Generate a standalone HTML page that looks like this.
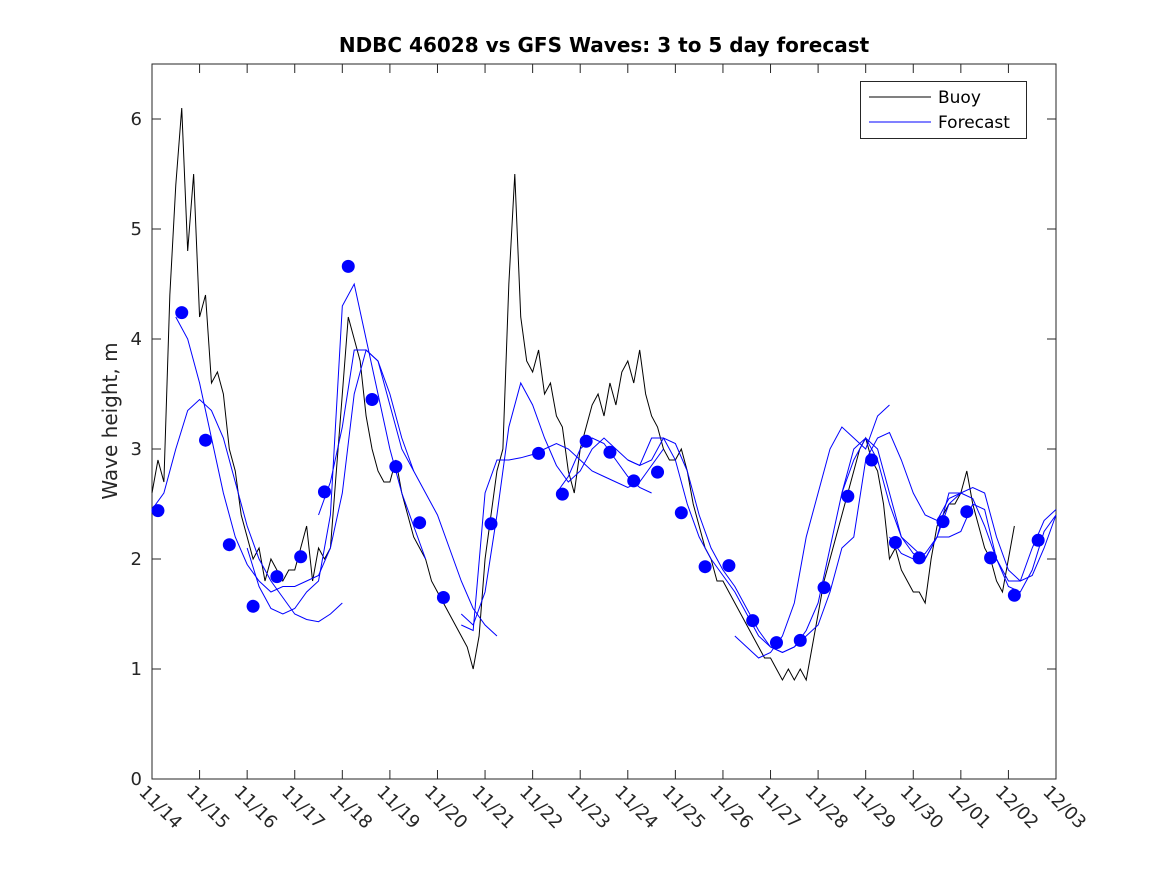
<!DOCTYPE html>
<html><head><meta charset="utf-8"><style>
body{margin:0;background:#fff;}
svg{display:block;font-family:"DejaVu Sans","Liberation Sans",sans-serif;}
</style></head><body>
<svg id="chart" width="1167" height="875">
<rect x="0" y="0" width="1167" height="875" fill="#fff"/>
<text x="604" y="52" text-anchor="middle" font-size="20" font-weight="bold">NDBC 46028 vs GFS Waves: 3 to 5 day forecast</text>
<g id="plot"></g>
</svg>
<script>
const dateLabels=["11/14","11/15","11/16","11/17","11/18","11/19","11/20","11/21","11/22","11/23","11/24","11/25","11/26","11/27","11/28","11/29","11/30","12/01","12/02","12/03"];
const yTicks=[0,1,2,3,4,5,6];
const buoyStep=0.125;
const buoy=[2.6,2.9,2.7,4.4,5.4,6.1,4.8,5.5,
4.2,4.4,3.6,3.7,3.5,3.0,2.8,2.4,
2.2,2.0,2.1,1.8,2.0,1.9,1.8,1.9,
1.9,2.1,2.3,1.8,2.1,2.0,2.1,2.8,
3.5,4.2,4.0,3.8,3.3,3.0,2.8,2.7,
2.7,2.9,2.6,2.4,2.2,2.1,2.0,1.8,
1.7,1.6,1.5,1.4,1.3,1.2,1.0,1.3,
2.0,2.4,2.8,3.0,4.5,5.5,4.2,3.8,
3.7,3.9,3.5,3.6,3.3,3.2,2.8,2.6,
3.0,3.2,3.4,3.5,3.3,3.6,3.4,3.7,
3.8,3.6,3.9,3.5,3.3,3.2,3.0,2.9,
2.9,3.0,2.8,2.5,2.3,2.1,2.0,1.8,
1.8,1.7,1.6,1.5,1.4,1.3,1.2,1.1,
1.1,1.0,0.9,1.0,0.9,1.0,0.9,1.2,
1.5,1.8,2.0,2.2,2.4,2.6,2.8,3.0,
3.1,2.9,2.8,2.5,2.0,2.1,1.9,1.8,
1.7,1.7,1.6,2.0,2.3,2.4,2.5,2.5,
2.6,2.8,2.5,2.3,2.1,2.0,1.8,1.7,
2.0,2.3];
const dotStart=0.125, dotStep=0.5;
const dots=[2.44,4.24,3.08,2.13,1.57,1.84,2.02,2.61,4.66,3.45,2.84,2.33,1.65,null,2.32,null,2.96,2.59,3.07,2.97,2.71,2.79,2.42,1.93,1.94,1.44,1.24,1.26,1.74,2.57,2.90,2.15,2.01,2.34,2.43,2.01,1.67,2.17];
const fcStep=0.25;
const fcStarts=[0,0.5,2.0,3.5,6.5,8.5,10,12.25,14.5,15.5,6.5];
const fcA=[2.45,2.6,3.0,3.35,3.45,3.35,3.1,2.7,2.3,2.0,1.8,1.65,1.5,1.45,1.43,1.5,1.6];
const fcB=[4.2,4.0,3.6,3.1,2.6,2.2,1.95,1.8,1.7,1.75,1.75,1.8,1.85,2.1,2.6,3.5,3.9,3.8,3.4,3.0,2.8];
const fcC=[2.1,1.75,1.55,1.5,1.55,1.7,1.8,2.4,4.3,4.5,4.0,3.5,3.0,2.6,2.3,2.0];
const fcD=[2.4,2.7,3.2,3.9,3.9,3.8,3.5,3.1,2.8,2.6,2.4,2.1,1.8,1.55,1.4,1.3];
const fcE=[1.5,1.4,1.7,2.4,3.2,3.6,3.4,3.1,2.85,2.7,2.8,3.0,3.1,3.0,2.9,2.85,2.9,3.1,3.05,2.8,2.4,2.1,1.9,1.75,1.55,1.35,1.2,1.15,1.2,1.35,1.6,2.1,2.6,3.0,3.1,2.9,2.5,2.2,2.05,2.0,2.2,2.5,2.6,2.55,2.3,2.0,1.8,1.8,2.1,2.35,2.45];
const fcF=[2.6,2.75,3.0,3.1,3.05,2.9,2.75,2.65,2.6];
const fcG=[2.9,2.85,3.1,3.1,2.9,2.5,2.2,2.0,1.85,1.7,1.5,1.3,1.2,1.15,1.2,1.3,1.4,1.7,2.1,2.2,2.9,3.1,3.15,2.9,2.6,2.4,2.35,2.55,2.6];
const fcH=[1.3,1.2,1.1,1.15,1.3,1.6,2.2,2.6,3.0,3.2,3.1,3.0,3.3,3.4];
const fcI=[2.6,2.9,3.1,3.0,2.6,2.2,2.1,2.0,2.2,2.6,2.6,2.65,2.6,2.2,1.9,1.8,1.85,2.1,2.4];
const fcJ=[2.2,2.05,2.0,2.05,2.2,2.2,2.25,2.5,2.45,2.0,1.75,1.7,1.9,2.25,2.4];
const fcK=[1.4,1.35,2.6,2.9,2.9,2.92,2.95,3.0,3.05,3.0,2.9,2.8,2.75,2.7,2.65,2.7,2.85,3.0];
const fcSeries=[fcA,fcB,fcC,fcD,fcE,fcF,fcG,fcH,fcI,fcJ,fcK];

const L=152,R=1056,T=64,B=779,XMAX=19,YMAX=6.5;
const xs=d=>L+(R-L)*d/XMAX;
const ys=v=>B-(B-T)*v/YMAX;
const NS="http://www.w3.org/2000/svg";
const g=document.getElementById('plot');
function mk(tag,attrs){const e=document.createElementNS(NS,tag);for(const k in attrs)e.setAttribute(k,attrs[k]);g.appendChild(e);return e;}

const frame=mk('rect',{x:L,y:T,width:R-L,height:B-T,fill:'none',stroke:'#262626','stroke-width':1});



dateLabels.forEach((lab,i)=>{
  const x=xs(i);
  const t1=mk('line',{x1:x,x2:x,y1:B,y2:B-9,stroke:'#262626'});
  
  
  const t2=mk('line',{x1:x,x2:x,y1:T,y2:T+9,stroke:'#262626'});
  
  
  const tx=mk('text',{x:x-14,y:B+14,'font-size':18,fill:'#262626',transform:`rotate(45 ${x-14} ${B+14})`});
  tx.textContent=lab;
  
  
});
yTicks.forEach(v=>{
  const y=ys(v);
  const a=mk('line',{x1:L,x2:L+9,y1:y,y2:y,stroke:'#262626'});
  
  
  const b=mk('line',{x1:R,x2:R-9,y1:y,y2:y,stroke:'#262626'});
  
  
  const t=mk('text',{x:L-10,y:y+6,'font-size':18,'text-anchor':'end',fill:'#262626'});
  t.textContent=v;
  
  
});
const yt=mk('text',{x:117,y:421,'font-size':20,'text-anchor':'middle',fill:'#262626',transform:'rotate(-90 117 421)'});
yt.textContent='Wave height, m';



const bp=mk('polyline',{fill:'none',stroke:'#000','stroke-width':1,points:buoy.map((v,i)=>xs(i*buoyStep)+','+ys(v)).join(' ')});



fcSeries.forEach((s,k)=>{
  const p=mk('polyline',{fill:'none',stroke:'#0000ff','stroke-width':1,points:s.map((v,i)=>xs(fcStarts[k]+i*fcStep)+','+ys(v)).join(' ')});
  
  
});
dots.forEach((v,i)=>{
  if(v===null)return;
  const c=mk('circle',{cx:xs(dotStart+i*dotStep),cy:ys(v),r:6.5,fill:'#0000ff'});
  
  
});

const lg=mk('rect',{x:860.5,y:81.5,width:166,height:57,fill:'#fff',stroke:'#262626'});


const l1=mk('line',{x1:869,x2:931,y1:97,y2:97,stroke:'#000'});


const lt1=mk('text',{x:938,y:103,'font-size':17,fill:'#000'});
lt1.textContent='Buoy';


const l2=mk('line',{x1:869,x2:931,y1:122,y2:122,stroke:'#0000ff'});


const lt2=mk('text',{x:938,y:128,'font-size':17,fill:'#000'});
lt2.textContent='Forecast';


</script>
</body></html>
